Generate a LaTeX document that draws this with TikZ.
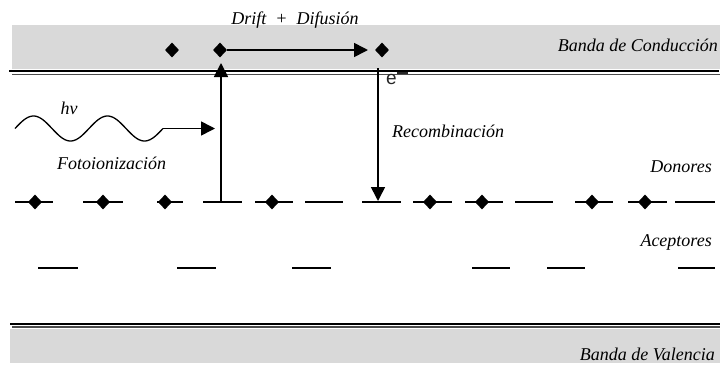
\documentclass[tikz,border=0pt]{standalone}
\usepackage{fontspec}
\newfontfamily\lblfont{Liberation Serif}
\newfontfamily\efont{Liberation Sans}
\usetikzlibrary{shapes.geometric,arrows.meta,calc}
\definecolor{bandgray}{HTML}{D9D9D9}
\begin{document}
\begin{tikzpicture}[x=1pt,y=-1pt,
  lbl/.style={font=\lblfont\fontsize{18}{21}\selectfont\itshape, inner sep=0pt},
  dot/.style={shape=diamond, fill=black, draw=none, inner sep=0pt, minimum width=14pt, minimum height=15pt},
  lvl/.style={line width=1.3pt},
  arr/.style={line width=1.6pt, -{Triangle[width=14pt,length=14pt]}},
  edge1/.style={line width=2pt, black},
  edge2/.style={line width=1.2pt, black!70}]
\useasboundingbox (0,0) rectangle (720,365);
% conduction band
\fill[bandgray] (12,25) rectangle (720,69);
\draw[edge1] (9,71) -- (719,71);
\draw[edge2] (12,74.5) -- (720,74.5);
% valence band
\fill[bandgray] (10,329) rectangle (720,363);
\draw[edge1] (10,323.5) -- (720,323.5);
\draw[edge2] (12,327) -- (720,327);
% labels
\node[lbl] (drift) at (295,20) {Drift~~+~~Difusión};
\node[lbl, anchor=east] (cb) at (718,45) {Banda de Conducción};
\node[lbl, anchor=east] (vb) at (715,354) {Banda de Valencia};
\node[lbl, anchor=east] (don) at (712,167) {Donores};
\node[lbl, anchor=east] (acc) at (712,242) {Aceptores};
\node[lbl, anchor=west] (rec) at (392,131) {Recombinación};
\node[lbl, anchor=west] (foto) at (57,163) {Fotoionización};
\node[lbl] (hnu) at (69,108) {hν};
\node[font=\efont\fontsize{19}{21}\selectfont, inner sep=0pt, black!85, anchor=base west] (elec) at (386,84) {e\raisebox{0.55em}{\rule{0.6em}{1.6pt}}};
% electrons in conduction band
\node[dot] (c1) at (172,50) {};
\node[dot] (c2) at (220,50) {};
\node[dot] (c3) at (382,50) {};
\coordinate (driftEnd) at (368,50);
\draw[arr] (c2) -- (driftEnd);
% donor levels with electrons
\foreach \a/\b/\c [count=\i] in {15/53/35, 83/123/103, 157/183/165, 255/293/272, 413/452/430, 465/503/482, 575/613/592, 628/667/645}{
  \draw[lvl] (\a,202) -- (\b,202);
  \node[dot] (don\i) at (\c,202) {};
}
% empty donor levels
\foreach \a/\b in {203/242, 305/343, 362/401, 515/553, 675/715}{
  \draw[lvl] (\a,202) -- (\b,202);
}
% acceptor levels
\foreach \a/\b in {38/78, 177/216, 292/331, 472/510, 547/585, 678/715}{
  \draw[lvl] (\a,268) -- (\b,268);
}
% photoionization arrow
\coordinate (upFoot) at (221,202);
\coordinate (upTop) at (221,63);
\draw[arr] (upFoot) -- (upTop);
% recombination arrow
\coordinate (dnTop) at (378,68);
\coordinate (dnFoot) at (378,201);
\draw[arr] (dnTop) -- (dnFoot);
% photon wave
\draw[line width=1.3pt] plot[domain=15:163, samples=120, smooth] (\x, {128.5 - 12.5*sin((\x-15)/74*360)});
\coordinate (waveEnd) at (163,128.5);
\coordinate (waveTip) at (215,128.5);
\draw[arr] (waveEnd) -- (waveTip);
\end{tikzpicture}
\end{document}
